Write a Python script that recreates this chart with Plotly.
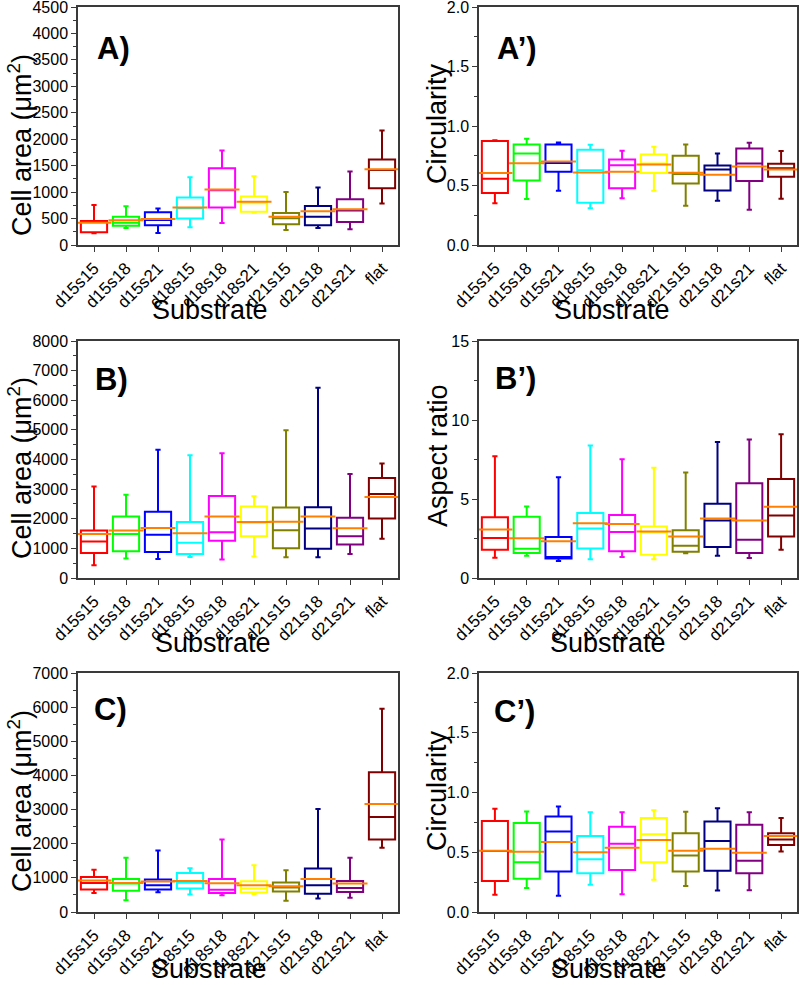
import plotly.graph_objects as go

categories = ["d15s15", "d15s18", "d15s21", "d18s15", "d18s18",
              "d18s21", "d21s15", "d21s18", "d21s21", "flat"]
colors = ["#FF0000", "#00FF00", "#0000FF", "#00FFFF", "#FF00FF",
          "#FFFF00", "#808000", "#000080", "#800080", "#800000"]
mean_color = "#FF8000"

# Panel A: cell area
A_low = [221, 322, 227, 334, 417, 612, 284, 322, 297, 783]
A_q1 = [240, 366, 372, 499, 707, 631, 391, 372, 435, 1073]
A_med = [440, 423, 473, 694, 1035, 789, 505, 536, 650, 1420]
A_q3 = [454, 536, 619, 896, 1452, 915, 606, 738, 865, 1616]
A_up = [757, 732, 688, 1281, 1786, 1300, 1003, 1086, 1389, 2165]
A_mean = [420, 467, 492, 707, 1048, 820, 536, 637, 675, 1433]

# Panel A': circularity
Ap_low = [0.350, 0.386, 0.456, 0.308, 0.392, 0.456, 0.330, 0.372, 0.297, 0.389]
Ap_q1 = [0.436, 0.543, 0.615, 0.355, 0.476, 0.604, 0.517, 0.459, 0.537, 0.573]
Ap_med = [0.557, 0.769, 0.690, 0.629, 0.671, 0.685, 0.596, 0.635, 0.685, 0.645]
Ap_q3 = [0.873, 0.845, 0.845, 0.800, 0.719, 0.761, 0.750, 0.668, 0.811, 0.683]
Ap_up = [0.881, 0.892, 0.862, 0.842, 0.792, 0.825, 0.845, 0.769, 0.859, 0.789]
Ap_mean = [0.604, 0.688, 0.702, 0.610, 0.615, 0.677, 0.607, 0.590, 0.660, 0.635]

# Panel B: cell area
B_low = [433, 656, 644, 711, 622, 722, 700, 700, 811, 1322]
B_q1 = [844, 900, 878, 811, 1256, 1411, 1000, 989, 1133, 2011]
B_med = [1233, 1489, 1456, 1189, 1544, 1856, 1611, 1667, 1411, 2833]
B_q3 = [1600, 2078, 2233, 1889, 2767, 2411, 2378, 2389, 2033, 3378]
B_up = [3089, 2811, 4333, 4144, 4211, 2756, 4989, 6420, 3511, 3867]
B_mean = [1489, 1600, 1689, 1511, 2078, 1889, 1900, 2078, 1678, 2733]

# Panel B': aspect ratio
Bp_low = [1.28, 1.41, 1.07, 1.18, 1.33, 1.18, 1.56, 1.41, 1.26, 1.79]
Bp_q1 = [1.79, 1.58, 1.24, 1.87, 1.69, 1.47, 1.66, 1.96, 1.58, 2.63]
Bp_med = [2.53, 1.85, 1.33, 3.14, 2.91, 2.88, 2.04, 3.64, 2.42, 3.96]
Bp_q3 = [3.85, 3.87, 2.59, 4.11, 3.98, 3.26, 3.03, 4.70, 6.00, 6.26]
Bp_up = [7.71, 4.53, 6.38, 8.38, 7.52, 6.97, 6.68, 8.60, 8.76, 9.10]
Bp_mean = [3.07, 2.51, 2.32, 3.47, 3.41, 2.95, 2.63, 3.77, 3.64, 4.51]

# Panel C: cell area
C_low = [558, 343, 578, 509, 490, 519, 333, 392, 421, 1880]
C_q1 = [656, 626, 656, 685, 558, 568, 597, 538, 587, 2125]
C_med = [852, 832, 783, 860, 650, 685, 715, 783, 700, 2780]
C_q3 = [1028, 969, 950, 1145, 969, 901, 862, 1273, 910, 4092]
C_up = [1234, 1586, 1801, 1283, 2124, 1371, 1224, 3015, 1586, 5950]
C_mean = [920, 852, 891, 910, 842, 783, 754, 969, 832, 3160]

# Panel C': circularity
Cp_low = [0.144, 0.200, 0.135, 0.228, 0.149, 0.270, 0.217, 0.180, 0.183, 0.507]
Cp_q1 = [0.259, 0.279, 0.338, 0.324, 0.352, 0.417, 0.338, 0.346, 0.324, 0.561]
Cp_med = [0.510, 0.417, 0.673, 0.442, 0.572, 0.651, 0.473, 0.594, 0.428, 0.606]
Cp_q3 = [0.761, 0.744, 0.800, 0.637, 0.713, 0.786, 0.659, 0.758, 0.730, 0.659]
Cp_up = [0.865, 0.842, 0.882, 0.834, 0.834, 0.851, 0.839, 0.868, 0.834, 0.786]
Cp_mean = [0.512, 0.504, 0.586, 0.501, 0.538, 0.603, 0.513, 0.530, 0.496, 0.637]

W, H = 800, 985
FONT = "Arial, Liberation Sans, sans-serif"

panels = [
    dict(s=(A_low, A_q1, A_med, A_q3, A_up, A_mean), label="A)", ytitle="Cell area (μm<sup>2</sup>)",
         yr=[0, 4500], dt=500, mdt=250, fmt="d", box=(78, 398, 7, 245),
         lab=(95, 48), yt=(20, 145), xt=(210, 310)),
    dict(s=(Ap_low, Ap_q1, Ap_med, Ap_q3, Ap_up, Ap_mean), label="A’)", ytitle="Circularity",
         yr=[0, 2], dt=0.5, mdt=0.25, fmt=".1f", box=(479, 797, 7, 245),
         lab=(495, 48), yt=(437, 124), xt=(612, 310)),
    dict(s=(B_low, B_q1, B_med, B_q3, B_up, B_mean), label="B)", ytitle="Cell area (μm<sup>2</sup>)",
         yr=[0, 8000], dt=1000, mdt=500, fmt="d", box=(78, 398, 341, 578),
         lab=(93, 379), yt=(20, 468), xt=(213, 643)),
    dict(s=(Bp_low, Bp_q1, Bp_med, Bp_q3, Bp_up, Bp_mean), label="B’)", ytitle="Aspect ratio",
         yr=[0, 15], dt=5, mdt=2.5, fmt="d", box=(479, 797, 341, 578),
         lab=(493, 378), yt=(438, 456), xt=(608, 643)),
    dict(s=(C_low, C_q1, C_med, C_q3, C_up, C_mean), label="C)", ytitle="Cell area (μm<sup>2</sup>)",
         yr=[0, 7000], dt=1000, mdt=500, fmt="d", box=(78, 398, 673, 912),
         lab=(92, 709), yt=(20, 801), xt=(209, 969)),
    dict(s=(Cp_low, Cp_q1, Cp_med, Cp_q3, Cp_up, Cp_mean), label="C’)", ytitle="Circularity",
         yr=[0, 2], dt=0.5, mdt=0.25, fmt=".1f", box=(479, 797, 673, 912),
         lab=(492, 711), yt=(437, 791), xt=(609, 969)),
]

fig = go.Figure()
annotations = []
layout_axes = {}

for i, p in enumerate(panels):
    n = i + 1
    xa = "x" if n == 1 else f"x{n}"
    ya = "y" if n == 1 else f"y{n}"
    low, q1, med, q3, up, mean = p["s"]
    for j, cat in enumerate(categories):
        fig.add_trace(go.Box(
            x=[cat], q1=[q1[j]], median=[med[j]], q3=[q3[j]],
            lowerfence=[low[j]], upperfence=[up[j]],
            line=dict(color=colors[j], width=2), fillcolor="rgba(0,0,0,0)",
            width=0.82, whiskerwidth=0.2, boxpoints=False,
            xaxis=xa, yaxis=ya, showlegend=False, hoverinfo="skip"))
    fig.add_trace(go.Scatter(
        x=categories, y=mean, mode="markers",
        marker=dict(symbol="line-ew", size=25, color=mean_color,
                    line=dict(color=mean_color, width=2)),
        xaxis=xa, yaxis=ya, showlegend=False, hoverinfo="skip"))

    x0, x1, y0, y1 = p["box"]
    axline = dict(showline=True, linecolor="#3a3a3a", linewidth=1.5, mirror=True,
                  showgrid=False, zeroline=False, automargin=False,
                  ticklabeloverflow="allow")
    layout_axes["xaxis" if n == 1 else f"xaxis{n}"] = dict(
        domain=[x0 / W, x1 / W], anchor=ya, type="category",
        categoryorder="array", categoryarray=categories, range=[-0.5, 9.5],
        ticks="outside", ticklen=5, tickcolor="#3a3a3a", tickangle=-45,
        tickfont=dict(family=FONT, size=17, color="black"), **axline)
    layout_axes["yaxis" if n == 1 else f"yaxis{n}"] = dict(
        domain=[1 - y1 / H, 1 - y0 / H], anchor=xa, range=p["yr"],
        tick0=0, dtick=p["dt"], tickformat=p["fmt"],
        ticks="outside", ticklen=5, tickcolor="#3a3a3a",
        minor=dict(dtick=p["mdt"], tick0=0, ticks="outside", ticklen=3, tickcolor="#3a3a3a"),
        tickfont=dict(family=FONT, size=16, color="black"), **axline)

    lx, ly = p["lab"]
    annotations.append(dict(text=f"<b>{p['label']}</b>", x=lx / W, y=1 - ly / H,
                            xref="paper", yref="paper", xanchor="left", yanchor="middle",
                            showarrow=False, font=dict(family=FONT, size=31, color="black")))
    tx, ty = p["yt"]
    annotations.append(dict(text=p["ytitle"], x=tx / W, y=1 - ty / H, textangle=-90,
                            xref="paper", yref="paper", xanchor="center", yanchor="middle",
                            showarrow=False, font=dict(family=FONT, size=27, color="black")))
    sx, sy = p["xt"]
    annotations.append(dict(text="Substrate", x=sx / W, y=1 - sy / H,
                            xref="paper", yref="paper", xanchor="center", yanchor="middle",
                            showarrow=False, font=dict(family=FONT, size=27, color="black")))

fig.update_layout(width=W, height=H, margin=dict(l=0, r=0, t=0, b=0, autoexpand=False),
                  paper_bgcolor="white", plot_bgcolor="white", boxmode="overlay",
                  annotations=annotations, **layout_axes)

fig.write_html("out.html", config={"displayModeBar": False},
               post_script="document.body.style.margin='0';")
